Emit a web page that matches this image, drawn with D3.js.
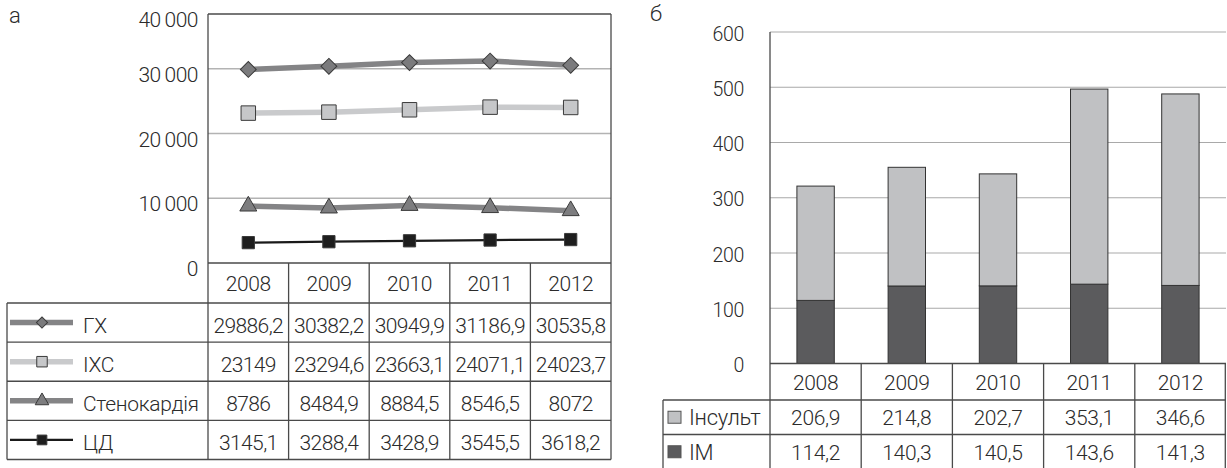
<!DOCTYPE html>
<html>
<head>
<meta charset="utf-8">
<script src="https://cdn.jsdelivr.net/npm/d3@7"></script>
<style>
  html, body { margin: 0; padding: 0; background: #fff; }
  svg { display: block; font-family: Roboto, "Liberation Sans", sans-serif; font-weight: 300; }
</style>
</head>
<body>
<svg id="chart" width="1227" height="468"></svg>
<script>
// ---------- DATA ----------
const years = ["2008", "2009", "2010", "2011", "2012"];
const seriesNames = ["ГХ", "ІХС", "Стенокардія", "ЦД"];
const ghValues = [29886.2, 30382.2, 30949.9, 31186.9, 30535.8];
const ihsValues = [23149, 23294.6, 23663.1, 24071.1, 24023.7];
const stenValues = [8786, 8484.9, 8884.5, 8546.5, 8072];
const cdValues = [3145.1, 3288.4, 3428.9, 3545.5, 3618.2];
const leftTicks = [0, 10000, 20000, 30000, 40000];

const barNames = ["Інсульт", "ІМ"];
const strokeValues = [206.9, 214.8, 202.7, 353.1, 346.6];
const imValues = [114.2, 140.3, 140.5, 143.6, 141.3];
const rightTicks = [0, 100, 200, 300, 400, 500, 600];

// ---------- HELPERS ----------
const svg = d3.select("#chart");
const TXT = "#2b2b2b";
const LINE = "#4a4a4a";
const fmtNum = v => String(v).replace(".", ",");
const fmtTick = v => v >= 1000 ? d3.format(",")(v).replace(",", "\u2009") : String(v);

// ================= LEFT CHART (а) =================
const L = { left: 208, right: 611, top: 14, zero: 263, yearBottom: 303, tableLeft: 7, tableBottom: 459.5 };
const xL = d3.scaleBand().domain(years).range([L.left, L.right]);
const yL = d3.scaleLinear().domain([0, 40000]).range([L.zero, 4]);
const rowsL = d3.scaleBand().domain(seriesNames).range([L.yearBottom, L.tableBottom]);
const gL = svg.append("g");

gL.append("text").attr("x", 9).attr("y", 23).attr("font-size", 22).attr("fill", TXT).text("а");

// gridlines
gL.append("g").selectAll("line").data(leftTicks.filter(t => t > 0 && t < 40000)).join("line")
  .attr("x1", L.left).attr("x2", L.right)
  .attr("y1", d => yL(d)).attr("y2", d => yL(d))
  .attr("stroke", "#b3b3b3").attr("stroke-width", 1.5);

// y tick labels (top tick sits at the plot frame)
gL.append("g").selectAll("text").data(leftTicks).join("text")
  .attr("x", 198)
  .attr("y", d => Math.max(yL(d), L.top) + 6)
  .attr("text-anchor", "end").attr("dominant-baseline", "central")
  .attr("font-size", 21).attr("letter-spacing", -0.5).attr("fill", TXT)
  .text(fmtTick);

// frame
gL.append("line").attr("x1", L.left).attr("x2", L.right).attr("y1", L.top).attr("y2", L.top).attr("stroke", LINE).attr("stroke-width", 1.3);
gL.append("line").attr("x1", L.left).attr("x2", L.right).attr("y1", yL(0)).attr("y2", yL(0)).attr("stroke", LINE).attr("stroke-width", 1.3);
gL.append("line").attr("x1", L.left).attr("x2", L.left).attr("y1", L.top).attr("y2", L.tableBottom).attr("stroke", LINE).attr("stroke-width", 1.3);
gL.append("line").attr("x1", L.right).attr("x2", L.right).attr("y1", L.top).attr("y2", L.tableBottom).attr("stroke", LINE).attr("stroke-width", 1.3);

// series definitions
const series = [
  { name: seriesNames[0], values: ghValues, line: "#848486", lw: 5.5, shape: "diamond", fill: "#7b7b7d", size: 125, legSize: 62 },
  { name: seriesNames[1], values: ihsValues, line: "#c9cacc", lw: 5.5, shape: "square", fill: "#c6c7c9", size: 210, legSize: 110 },
  { name: seriesNames[2], values: stenValues, line: "#848486", lw: 5.5, shape: "triangle", fill: "#7d7d7f", size: 125, legSize: 80 },
  { name: seriesNames[3], values: cdValues, line: "#1a1a1a", lw: 2.2, shape: "square", fill: "#1e1e1e", size: 150, legSize: 95 }
];
function symPath(shape, size) {
  const t = shape === "triangle" ? d3.symbolTriangle : d3.symbolSquare;
  return d3.symbol().type(t).size(size)();
}
function symTransform(shape, x, y) {
  return shape === "diamond" ? `translate(${x},${y}) rotate(45)` : `translate(${x},${y})`;
}

const lineGen = d3.line();
series.forEach(s => {
  const pts = s.values.map((v, i) => [xL(years[i]) + xL.bandwidth() / 2, yL(v)]);
  gL.append("path").attr("d", lineGen(pts)).attr("fill", "none")
    .attr("stroke", s.line).attr("stroke-width", s.lw);
  gL.append("g").selectAll("path").data(pts).join("path")
    .attr("d", symPath(s.shape, s.size))
    .attr("transform", d => symTransform(s.shape, d[0], d[1]))
    .attr("fill", s.fill).attr("stroke", "#3a3a3a").attr("stroke-width", 1);
});

// year row
gL.append("g").selectAll("line").data(years.slice(1)).join("line")
  .attr("x1", d => xL(d)).attr("x2", d => xL(d))
  .attr("y1", L.zero).attr("y2", L.tableBottom)
  .attr("stroke", LINE).attr("stroke-width", 1.3);
gL.append("g").selectAll("text").data(years).join("text")
  .attr("x", d => xL(d) + xL.bandwidth() / 2).attr("y", (L.zero + L.yearBottom) / 2 + 8)
  .attr("text-anchor", "middle").attr("font-size", 21).attr("letter-spacing", -0.4)
  .attr("fill", TXT).text(d => d);

// table lines
const rowEdges = seriesNames.map(n => rowsL(n)).concat([L.tableBottom]);
gL.append("g").selectAll("line").data(rowEdges).join("line")
  .attr("x1", L.tableLeft).attr("x2", L.right)
  .attr("y1", d => d).attr("y2", d => d)
  .attr("stroke", LINE).attr("stroke-width", 1.3);
gL.append("line").attr("x1", L.tableLeft).attr("x2", L.tableLeft)
  .attr("y1", L.yearBottom).attr("y2", L.tableBottom).attr("stroke", LINE).attr("stroke-width", 1.3);

// table rows: legend + values
series.forEach((s, si) => {
  const y0 = rowsL(s.name), cy = y0 + rowsL.bandwidth() / 2;
  gL.append("line").attr("x1", 10).attr("x2", 73).attr("y1", cy).attr("y2", cy)
    .attr("stroke", s.line).attr("stroke-width", s.lw);
  gL.append("path").attr("d", symPath(s.shape, s.legSize))
    .attr("transform", symTransform(s.shape, 42, cy))
    .attr("fill", s.fill).attr("stroke", "#3a3a3a").attr("stroke-width", 1);
  gL.append("text").attr("x", 83).attr("y", cy + 10).attr("font-size", 21).attr("letter-spacing", -0.3)
    .attr("fill", TXT).text(s.name);
  gL.append("g").selectAll("text").data(s.values).join("text")
    .attr("x", (d, i) => xL(years[i]) + xL.bandwidth() / 2).attr("y", cy + 10)
    .attr("text-anchor", "middle").attr("font-size", 21).attr("letter-spacing", -0.6)
    .attr("fill", TXT).text(fmtNum);
});

// ================= RIGHT CHART (б) =================
const R = { left: 770, right: 1226, yearBottom: 400, tableLeft: 663, tableBottom: 469 };
const xR = d3.scaleBand().domain(years).range([R.left, R.right]);
const yR = d3.scaleLinear().domain([0, 600]).range([363.5, 32]);
const rowsR = d3.scaleBand().domain(barNames).range([R.yearBottom, R.tableBottom]);
const gR = svg.append("g");

gR.append("text").attr("x", 650).attr("y", 21).attr("font-size", 22).attr("fill", TXT).text("б");

gR.append("g").selectAll("line").data(rightTicks.filter(t => t > 0)).join("line")
  .attr("x1", R.left).attr("x2", R.right)
  .attr("y1", d => yR(d)).attr("y2", d => yR(d))
  .attr("stroke", "#a9a9a9").attr("stroke-width", 1.2);
gR.append("g").selectAll("text").data(rightTicks).join("text")
  .attr("x", 744).attr("y", d => yR(d) + 2)
  .attr("text-anchor", "end").attr("dominant-baseline", "central")
  .attr("font-size", 19.5).attr("letter-spacing", -0.3).attr("fill", TXT).text(fmtTick);

// stacked bars
const barW = xR.bandwidth() * 0.41;
const stackData = years.map((y, i) => ({ year: y, "ІМ": imValues[i], "Інсульт": strokeValues[i] }));
const stacked = d3.stack().keys(["ІМ", "Інсульт"])(stackData);
const barFill = { "ІМ": "#5b5b5d", "Інсульт": "#c0c1c3" };
stacked.forEach(layer => {
  gR.append("g").selectAll("rect").data(layer).join("rect")
    .attr("x", d => xR(d.data.year) + (xR.bandwidth() - barW) / 2)
    .attr("width", barW)
    .attr("y", d => yR(d[1]))
    .attr("height", d => yR(d[0]) - yR(d[1]))
    .attr("fill", barFill[layer.key]).attr("stroke", "#333").attr("stroke-width", 1);
});

// axes lines
gR.append("line").attr("x1", R.left).attr("x2", R.right).attr("y1", yR(0)).attr("y2", yR(0)).attr("stroke", LINE).attr("stroke-width", 1.3);
gR.append("line").attr("x1", R.left).attr("x2", R.left).attr("y1", yR(600)).attr("y2", R.tableBottom).attr("stroke", LINE).attr("stroke-width", 1.3);

// year row & table grid
gR.append("g").selectAll("line").data(years.slice(1).map(d => xR(d)).concat([R.right - 0.7])).join("line")
  .attr("x1", d => d).attr("x2", d => d)
  .attr("y1", yR(0)).attr("y2", R.tableBottom)
  .attr("stroke", LINE).attr("stroke-width", 1.3);
gR.append("g").selectAll("text").data(years).join("text")
  .attr("x", d => xR(d) + xR.bandwidth() / 2).attr("y", (yR(0) + R.yearBottom) / 2 + 8)
  .attr("text-anchor", "middle").attr("font-size", 21).attr("letter-spacing", -0.3)
  .attr("fill", TXT).text(d => d);
gR.append("g").selectAll("line").data(barNames.map(n => rowsR(n))).join("line")
  .attr("x1", R.tableLeft).attr("x2", R.right)
  .attr("y1", d => d).attr("y2", d => d)
  .attr("stroke", LINE).attr("stroke-width", 1.3);
gR.append("line").attr("x1", R.tableLeft).attr("x2", R.tableLeft)
  .attr("y1", R.yearBottom).attr("y2", R.tableBottom).attr("stroke", LINE).attr("stroke-width", 1.3);

const rowValues = { "Інсульт": strokeValues, "ІМ": imValues };
barNames.forEach(name => {
  const cy = rowsR(name) + rowsR.bandwidth() / 2;
  gR.append("rect").attr("x", 668).attr("y", cy - 6).attr("width", 13).attr("height", 12)
    .attr("fill", barFill[name]).attr("stroke", "#555").attr("stroke-width", 1);
  gR.append("text").attr("x", 689).attr("y", cy + 8).attr("font-size", 22).attr("letter-spacing", -0.3)
    .attr("fill", TXT).text(name);
  gR.append("g").selectAll("text").data(rowValues[name]).join("text")
    .attr("x", (d, i) => xR(years[i]) + xR.bandwidth() / 2).attr("y", cy + 8)
    .attr("text-anchor", "middle").attr("font-size", 21).attr("letter-spacing", -0.3)
    .attr("fill", TXT).text(fmtNum);
});
</script>
</body>
</html>
